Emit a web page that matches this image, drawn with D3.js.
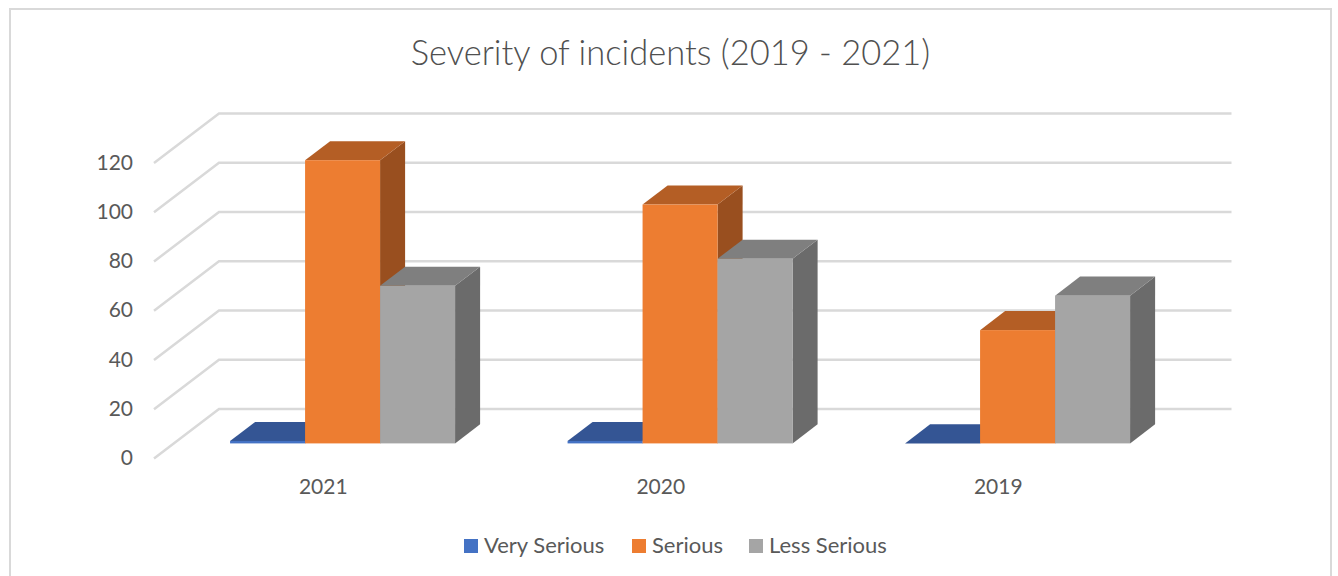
<!DOCTYPE html>
<html><head><meta charset="utf-8"><script src="https://d3js.org/d3.v7.min.js"></script>
<style>html,body{margin:0;padding:0;background:#fff}svg{display:block}text{font-family:Lato,"Open Sans",sans-serif;fill:#595959}</style>
</head><body><svg id="c" width="1338" height="576"></svg>
<script>
const title = "Severity of incidents (2019 - 2021)";
const categories = ["2021", "2020", "2019"];
const seriesNames = ["Very Serious", "Serious", "Less Serious"];
const verySerious = [1, 1, 0];
const serious = [115, 97, 46];
const lessSerious = [64, 75, 60];
const yTicks = [0, 20, 40, 60, 80, 100, 120];
const seriesValues = [verySerious, serious, lessSerious];
const frontColors = ["#4472c4", "#ed7d31", "#a5a5a5"];
const topColors = ["#345594", "#b45e25", "#7f7f7f"];
const sideColors = ["#2f4d86", "#994f1f", "#6b6b6b"];

const svg = d3.select("#c");
// chart frame (open at the bottom: it runs off the picture)
svg.append("path").attr("d", "M10,580V9H1331V580").attr("fill", "none").attr("stroke", "#d9d9d9").attr("stroke-width", 2);

svg.append("text").attr("x", 670.5).attr("y", 65).attr("text-anchor", "middle")
  .style("font-size", "34.5px").style("font-weight", 300).style("fill", "#505050").text(title);

// projection of the oblique view
const wall = {dx: 65, dy: -49.5};
const floorLeft = 154, floorRight = 1166.5;
const x = d3.scaleBand().domain(categories).range([floorLeft, floorRight]);
const y = d3.scaleLinear().domain([0, 120]).range([458.5, 163]);
const barFrac = 0.305, barDepth = 0.385;
const inner = d3.scaleBand().domain(d3.range(3)).range([0, x.bandwidth()]).paddingOuter(0.75).paddingInner(0);
const line = d3.line();

// gridlines
const grid = svg.append("g").attr("fill", "none").attr("stroke", "#d9d9d9").attr("stroke-width", 2.5);
yTicks.forEach(t => {
  grid.append("path").attr("d", line([[floorLeft, y(t)], [floorLeft + wall.dx, y(t) + wall.dy], [floorRight + wall.dx, y(t) + wall.dy]]));
});

// y axis labels
svg.append("g").selectAll("text").data(yTicks).join("text")
  .attr("x", 133).attr("y", d => y(d) + 6.5).attr("text-anchor", "end")
  .style("font-size", "21px").text(d => d);

// x axis labels
svg.append("g").selectAll("text").data(categories).join("text")
  .attr("x", d => x(d) + x.bandwidth() / 2 + 0.5).attr("y", 494).attr("text-anchor", "middle")
  .style("font-size", "21px").text(d => d);

// bars
const bars = svg.append("g");
categories.forEach((cat, ci) => {
  seriesValues.forEach((vals, si) => {
    const v = vals[ci];
    const offX = wall.dx * barFrac, offY = wall.dy * barFrac;
    const x0 = x(cat) + inner(si) + offX, x1 = x0 + inner.bandwidth();
    const yb = y(0) + offY, yt = y(v) + offY;
    const ddx = wall.dx * barDepth, ddy = wall.dy * barDepth;
    bars.append("path").attr("fill", sideColors[si])
      .attr("d", line([[x1, yb], [x1 + ddx, yb + ddy], [x1 + ddx, yt + ddy], [x1, yt]]) + "Z");
    bars.append("path").attr("fill", topColors[si])
      .attr("d", line([[x0, yt], [x0 + ddx, yt + ddy], [x1 + ddx, yt + ddy], [x1, yt]]) + "Z");
    bars.append("rect").attr("x", x0).attr("y", yt).attr("width", x1 - x0).attr("height", yb - yt).attr("fill", frontColors[si]);
  });
});

// legend
const legendSwatchX = [464, 632, 749];
const legend = svg.append("g");
seriesNames.forEach((n, i) => {
  legend.append("rect").attr("x", legendSwatchX[i]).attr("y", 539).attr("width", 14).attr("height", 14).attr("fill", frontColors[i]);
  legend.append("text").attr("x", legendSwatchX[i] + 20).attr("y", 553).style("font-size", "22px").text(n);
});
</script></body></html>
